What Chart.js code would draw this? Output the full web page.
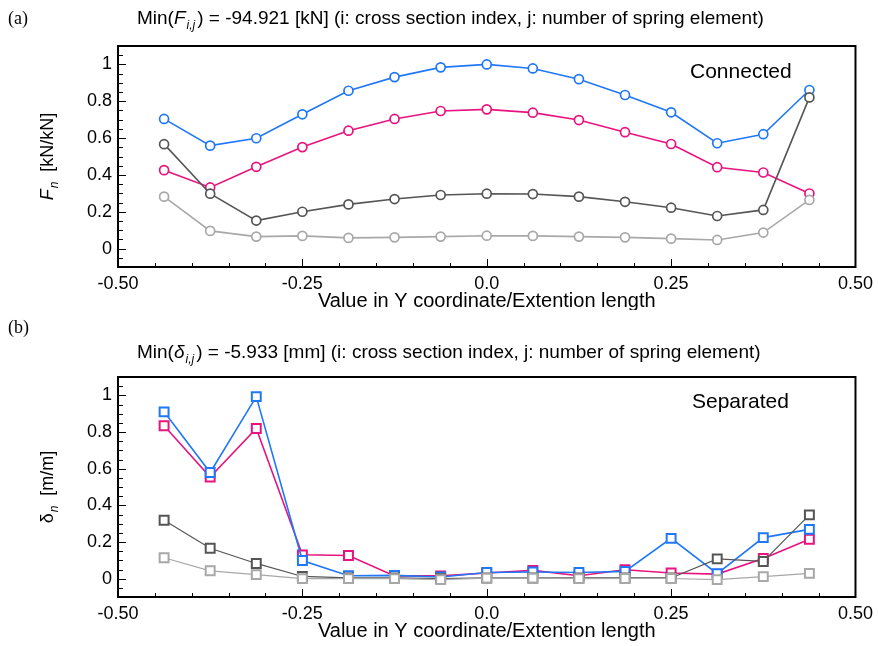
<!DOCTYPE html>
<html>
<head>
<meta charset="utf-8">
<script src="https://cdn.jsdelivr.net/npm/chart.js@4.4.1/dist/chart.umd.min.js"></script>
<style>
  body { margin: 0; background: #fff; }
  canvas { display: block; }
</style>
</head>
<body>
<canvas id="chartA" width="879" height="310"></canvas>
<canvas id="chartB" width="879" height="336"></canvas>
<script>
// Positions along the section (Y coordinate / extension length)
const xValues = [-0.4375, -0.375, -0.3125, -0.25, -0.1875, -0.125, -0.0625, 0,
                 0.0625, 0.125, 0.1875, 0.25, 0.3125, 0.375, 0.4375];
const xTicks = [-0.5, -0.25, 0, 0.25, 0.5];
const xTickLabels = ['-0.50', '-0.25', '0.0', '0.25', '0.50'];
const yTicks = [0, 0.2, 0.4, 0.6, 0.8, 1];
const yTickLabels = ['0', '0.2', '0.4', '0.6', '0.8', '1'];

// (a) normalised spring force, Connected
const forceBlue  = [0.704, 0.559, 0.599, 0.729, 0.857, 0.931, 0.984, 1.0, 0.978, 0.920, 0.834, 0.740, 0.572, 0.621, 0.861];
const forcePink  = [0.426, 0.332, 0.444, 0.551, 0.640, 0.704, 0.747, 0.756, 0.738, 0.698, 0.632, 0.568, 0.442, 0.413, 0.299];
const forceDark  = [0.567, 0.298, 0.152, 0.200, 0.240, 0.269, 0.291, 0.298, 0.296, 0.282, 0.254, 0.222, 0.177, 0.210, 0.821];
const forceLight = [0.282, 0.096, 0.065, 0.069, 0.058, 0.061, 0.065, 0.070, 0.069, 0.065, 0.061, 0.054, 0.047, 0.087, 0.264];

// (b) normalised displacement, Separated
const dispBlue  = [0.910, 0.579, 0.993, 0.099, 0.016, 0.018, 0.009, 0.034, 0.036, 0.034, 0.040, 0.220, 0.027, 0.224, 0.269];
const dispPink  = [0.834, 0.554, 0.819, 0.130, 0.126, 0.015, 0.015, 0.031, 0.045, 0.016, 0.049, 0.031, 0.025, 0.110, 0.215];
const dispDark  = [0.319, 0.166, 0.083, 0.012, 0.004, 0.004, 0.000, 0.004, 0.004, 0.004, 0.004, 0.004, 0.108, 0.094, 0.348];
const dispLight = [0.114, 0.043, 0.022, 0.000, 0.000, 0.000, -0.005, 0.003, 0.003, 0.000, 0.001, 0.001, -0.005, 0.011, 0.029];

const BLUE = '#1f78f7';
const PINK = '#e8137e';
const DARK = '#555555';
const LIGHT = '#a8a8a8';
const FONT = "'Liberation Sans', Arial, sans-serif";

function toPoints(values) {
    return values.map((v, i) => ({ x: xValues[i], y: v }));
}

// draw a run of text pieces (normal / italic / subscript) starting at x
function drawParts(ctx, x, y, parts) {
    parts.forEach(p => {
        ctx.font = p.font;
        ctx.fillText(p.t, x, y + (p.dy || 0));
        x += ctx.measureText(p.t).width + (p.gap || 0);
    });
}

// frame, inward ticks, titles and labels
const framePlugin = {
    id: 'frame',
    afterDraw(chart, args, opts) {
        const ctx = chart.ctx;
        const area = chart.chartArea;
        const xs = chart.scales.x;
        const ys = chart.scales.y;
        ctx.save();
        ctx.strokeStyle = '#000';
        ctx.lineWidth = 1;
        ctx.beginPath();
        for (let k = -10; k <= 10; k++) {
            const px = Math.round(xs.getPixelForValue(k * 0.05)) + 0.5;
            const len = k % 5 === 0 ? 8 : 4;
            ctx.moveTo(px, area.bottom);
            ctx.lineTo(px, area.bottom - len);
        }
        for (let k = -2; k <= 22; k++) {
            const py = Math.round(ys.getPixelForValue(k * 0.05)) + 0.5;
            const len = k % 4 === 0 ? 8 : 5;
            ctx.moveTo(area.left, py);
            ctx.lineTo(area.left + len, py);
        }
        ctx.stroke();

        ctx.lineWidth = 2;
        ctx.strokeRect(area.left, area.top, area.right - area.left, area.bottom - area.top);

        ctx.fillStyle = '#000';
        ctx.textBaseline = 'alphabetic';
        ctx.textAlign = 'left';
        ctx.font = "18px 'Liberation Serif', 'Times New Roman', serif";
        ctx.fillText(opts.tag, 8, opts.tagY);
        drawParts(ctx, 137, opts.titleY, opts.title);

        ctx.font = '21px ' + FONT;
        ctx.fillText(opts.note, opts.noteX, opts.noteY);

        ctx.textAlign = 'center';
        ctx.font = '20px ' + FONT;
        ctx.fillText('Value in Y coordinate/Extention length', (area.left + area.right) / 2, area.bottom + 40);

        // rotated y title
        ctx.translate(53, (area.top + area.bottom) / 2);
        ctx.rotate(-Math.PI / 2);
        ctx.textAlign = 'left';
        let w = 0;
        opts.yTitle.forEach(p => { ctx.font = p.font; w += ctx.measureText(p.t).width + (p.gap || 0); });
        drawParts(ctx, -w / 2, 0, opts.yTitle);
        ctx.restore();
    }
};

function makeChart(id, series, colors, isSquare, frame) {
    const canvas = document.getElementById(id);
    const datasets = series.map((vals, i) => ({
        data: toPoints(vals),
        borderColor: colors[i],
        backgroundColor: '#fff',
        borderWidth: isSquare && i < 2 ? 1.2 : 1.6,
        pointStyle: isSquare ? 'rect' : 'circle',
        pointRadius: isSquare ? 6.3 : 4.5,
        pointHoverRadius: isSquare ? 6.3 : 4.5,
        pointBorderWidth: isSquare ? 2 : 1.7,
        pointBorderColor: colors[i],
        pointBackgroundColor: '#fff',
        tension: 0
    }));
    return new Chart(canvas, {
        type: 'line',
        data: { datasets },
        plugins: [framePlugin],
        options: {
            responsive: false,
            animation: false,
            devicePixelRatio: 1,
            layout: { padding: { top: frame.top, right: 22, left: 0, bottom: 0 } },
            plugins: { legend: { display: false }, tooltip: { enabled: false }, frame },
            scales: {
                x: {
                    type: 'linear', min: -0.5, max: 0.5,
                    grid: { display: false, drawTicks: false },
                    border: { display: false },
                    afterBuildTicks: s => { s.ticks = xTicks.map(v => ({ value: v })); },
                    afterFit: s => { s.height = canvas.height - frame.bottom; },
                    ticks: {
                        callback: (v, i) => xTickLabels[i],
                        autoSkip: false, maxRotation: 0, padding: 6,
                        color: '#000', font: { family: FONT, size: 18 }
                    }
                },
                y: {
                    type: 'linear', min: -0.1, max: 1.1,
                    grid: { display: false, drawTicks: false },
                    border: { display: false },
                    afterBuildTicks: s => { s.ticks = yTicks.map(v => ({ value: v })); },
                    afterFit: s => { s.width = 118; },
                    ticks: {
                        callback: (v, i) => yTickLabels[i],
                        autoSkip: false, padding: 6,
                        color: '#000', font: { family: FONT, size: 18 }
                    }
                }
            }
        }
    });
}

const reg = '19px ' + FONT;
const ita = 'italic 19px ' + FONT;
const sub = 'italic 12px ' + FONT;

makeChart('chartA', [forceLight, forceDark, forcePink, forceBlue], [LIGHT, DARK, PINK, BLUE], false, {
    top: 46, bottom: 267,
    tag: '(a)', tagY: 24, titleY: 24,
    title: [
        { t: 'Min(', font: reg },
        { t: 'F', font: ita, gap: 1 },
        { t: 'i,j', font: sub, dy: 5, gap: 2 },
        { t: ') = -94.921 [kN] (i: cross section index, j: number of spring element)', font: reg }
    ],
    note: 'Connected', noteX: 690, noteY: 78,
    yTitle: [
        { t: 'F', font: 'italic 18px ' + FONT, gap: 1 },
        { t: 'n', font: 'italic 12px ' + FONT, dy: 5 },
        { t: '  [kN/kN]', font: '18px ' + FONT }
    ]
});

// canvas B starts at y = 310
makeChart('chartB', [dispLight, dispDark, dispBlue, dispPink], [LIGHT, DARK, BLUE, PINK], true, {
    top: 67, bottom: 287,
    tag: '(b)', tagY: 23, titleY: 48,
    title: [
        { t: 'Min(', font: reg },
        { t: 'δ', font: ita, gap: 1 },
        { t: 'i,j', font: sub, dy: 5, gap: 2 },
        { t: ') = -5.933 [mm] (i: cross section index, j: number of spring element)', font: reg }
    ],
    note: 'Separated', noteX: 692, noteY: 98,
    yTitle: [
        { t: 'δ', font: '18px ' + FONT, gap: 1 },
        { t: 'n', font: 'italic 12px ' + FONT, dy: 5 },
        { t: '  [m/m]', font: '18px ' + FONT }
    ]
});
</script>
</body>
</html>
